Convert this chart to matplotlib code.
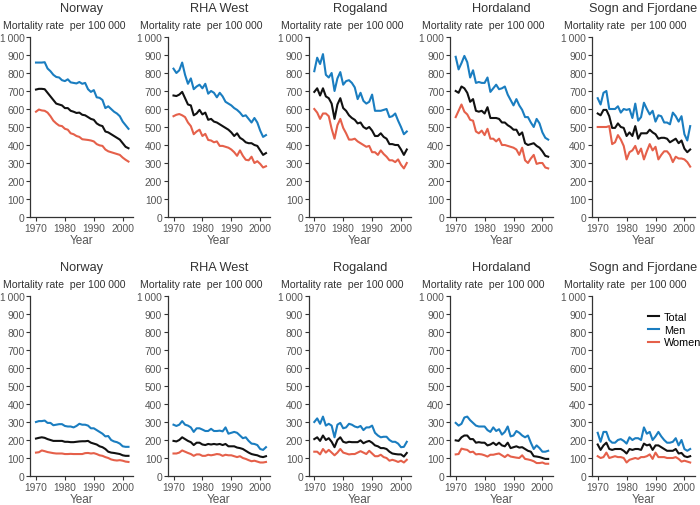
import matplotlib
matplotlib.use("Agg")
import matplotlib.pyplot as plt
import numpy as np

plt.rcParams['font.family'] = ['Liberation Sans', 'DejaVu Sans']

years = np.arange(1970, 2003)
regions = ['Norway', 'RHA West', 'Rogaland', 'Hordaland', 'Sogn and Fjordane']

# top row: all causes, per 100 000
top_total = {
    'Norway': [708, 712, 712, 710, 690, 670, 650, 630, 625, 620, 605, 605, 590, 585, 578, 580, 568, 565, 555, 545,
               540, 520, 510, 505, 475, 470, 460, 450, 440, 430, 410, 390, 382],
    'RHA West': [675, 672, 680, 695, 660, 625, 620, 565, 575, 595, 570, 580, 540, 545, 530, 525, 515, 505, 495, 485,
                 470, 450, 465, 440, 430, 415, 410, 410, 400, 395, 370, 345, 355],
    'Rogaland': [695, 715, 675, 715, 670, 660, 630, 545, 625, 660, 605, 590, 565, 550, 540, 520, 525, 500, 490, 500,
                 480, 450, 450, 465, 445, 435, 405, 405, 400, 400, 375, 345, 375],
    'Hordaland': [700, 690, 725, 715, 690, 640, 655, 590, 585, 590, 575, 610, 550, 550, 550, 545, 525, 525, 510, 500,
                  485, 485, 455, 470, 410, 400, 405, 410, 395, 385, 365, 340, 335],
    'Sogn and Fjordane': [575, 565, 595, 595, 560, 495, 495, 520, 500, 495, 450, 470, 450, 505, 435, 465, 465, 465, 485, 470,
                          460, 435, 440, 440, 435, 415, 425, 435, 410, 425, 380, 360, 375],
}
top_men = {
    'Norway': [858, 858, 858, 860, 825, 810, 790, 778, 775, 760, 755, 765, 748, 745, 742, 750, 740, 745, 710, 695,
               705, 665, 662, 650, 605, 615, 600, 585, 575, 560, 530, 510, 490],
    'RHA West': [824, 800, 815, 858, 790, 740, 770, 710, 725, 735, 715, 740, 685, 700, 690, 665, 690, 670, 640, 630,
                 620, 605, 595, 580, 560, 565, 545, 525, 550, 525, 480, 445, 455],
    'Rogaland': [810, 885, 850, 905, 790, 775, 800, 700, 770, 805, 735, 755, 760, 745, 720, 655, 690, 645, 630, 640,
                 680, 590, 590, 590, 595, 600, 555, 560, 575, 535, 500, 460, 475],
    'Hordaland': [890, 820, 855, 895, 860, 775, 815, 745, 750, 745, 745, 775, 695, 715, 735, 710, 715, 725, 680, 650,
                  620, 655, 620, 595, 555, 555, 525, 500, 545, 520, 470, 440, 430],
    'Sogn and Fjordane': [660, 625, 690, 700, 600, 600, 600, 615, 580, 600, 595, 600, 550, 630, 535, 555, 635, 600, 570, 590,
                          530, 565, 560, 525, 525, 515, 580, 560, 530, 560, 460, 425, 505],
}
top_women = {
    'Norway': [585, 597, 592, 590, 580, 560, 535, 520, 508, 505, 490, 485, 465, 460, 450, 445, 432, 430, 428, 425,
               420, 405, 398, 395, 375, 365, 360, 355, 350, 345, 330, 318, 308],
    'RHA West': [560, 568, 572, 565, 555, 525, 505, 460, 475, 485, 450, 462, 428, 425, 415, 420, 395, 395, 390, 385,
                 375, 360, 340, 370, 340, 318, 315, 335, 300, 310, 295, 275, 282],
    'Rogaland': [600, 580, 545, 575, 575, 560, 490, 435, 510, 545, 495, 465, 430, 430, 435, 420, 410, 400, 390, 395,
                 360, 360, 345, 370, 350, 335, 315, 315, 305, 320, 290, 270, 300],
    'Hordaland': [555, 590, 625, 585, 570, 540, 535, 475, 465, 480, 455, 490, 435, 435, 420, 435, 400, 400, 395, 390,
                  385, 375, 345, 385, 315, 300, 325, 345, 295, 300, 300, 275, 270],
    'Sogn and Fjordane': [500, 500, 500, 500, 505, 405, 415, 455, 430, 395, 320, 360, 370, 395, 350, 380, 320, 365, 405, 370,
                          390, 320, 345, 365, 365, 345, 305, 335, 325, 325, 320, 305, 280],
}

# bottom row
bot_total = {
    'Norway': [208, 212, 215, 212, 205, 200, 195, 195, 195, 195, 190, 190, 188, 188, 190, 192, 193, 193, 195, 185,
               180, 175, 165, 160, 150, 135, 130, 128, 125, 122, 115, 112, 112],
    'RHA West': [195, 192, 200, 215, 205, 195, 188, 172, 185, 185, 175, 172, 178, 175, 178, 175, 178, 172, 178, 165,
                 165, 165, 158, 155, 150, 140, 130, 122, 118, 115, 108, 105, 110],
    'Rogaland': [205, 215, 195, 225, 200, 210, 190, 160, 200, 215, 190, 185, 190, 188, 188, 188, 198, 182, 190, 195,
                 185, 170, 165, 155, 155, 150, 135, 125, 122, 120, 120, 108, 128],
    'Hordaland': [198, 195, 215, 225, 225, 205, 205, 185, 188, 185, 185, 170, 175, 185, 172, 185, 170, 165, 185, 155,
                  160, 165, 158, 160, 150, 140, 135, 110, 108, 105, 100, 95, 95],
    'Sogn and Fjordane': [175, 145, 170, 185, 150, 145, 150, 150, 150, 140, 125, 150, 145, 150, 150, 145, 180, 170, 175, 145,
                          170, 170, 160, 150, 140, 140, 140, 150, 125, 128, 110, 105, 110],
}
bot_men = {
    'Norway': [300, 305, 305, 308, 295, 295, 282, 285, 288, 288, 278, 275, 275, 270, 278, 290, 285, 285, 280, 265,
               265, 255, 245, 235, 220, 222, 200, 192, 188, 180, 165, 162, 162],
    'RHA West': [285, 278, 285, 305, 285, 280, 270, 245, 265, 265, 258, 250, 250, 262, 250, 250, 252, 248, 270, 235,
                 240, 245, 240, 225, 210, 215, 195, 180, 178, 172, 150, 145, 160],
    'Rogaland': [300, 320, 290, 330, 280, 290, 280, 215, 285, 295, 265, 270, 290, 285, 275, 270, 278, 255, 270, 270,
                 280, 240, 225, 215, 218, 218, 200, 190, 190, 180, 160, 162, 190],
    'Hordaland': [295, 280, 290, 325, 330, 310, 295, 280, 275, 275, 275, 255, 245, 270, 250, 260, 230, 245, 275, 220,
                  225, 250, 240, 225, 215, 225, 185, 150, 170, 155, 135, 135, 140],
    'Sogn and Fjordane': [240, 190, 245, 245, 200, 185, 185, 200, 205, 195, 180, 215, 200, 210, 210, 200, 270, 235, 245, 200,
                          220, 245, 220, 200, 185, 185, 190, 210, 170, 200, 150, 140, 150],
}
bot_women = {
    'Norway': [130, 132, 142, 138, 133, 130, 127, 125, 125, 125, 122, 122, 123, 122, 122, 122, 122, 127, 128, 125,
               127, 122, 115, 112, 105, 100, 92, 88, 86, 88, 85, 80, 78],
    'RHA West': [125, 125, 130, 142, 135, 128, 122, 112, 120, 120, 112, 112, 118, 115, 118, 122, 120, 112, 118, 115,
                 115, 110, 105, 110, 100, 95, 88, 82, 85, 80, 75, 75, 78],
    'Rogaland': [135, 135, 120, 150, 130, 145, 130, 115, 130, 150, 130, 125, 120, 122, 122, 130, 138, 130, 122, 140,
                 125, 110, 110, 118, 105, 100, 85, 90, 85, 78, 85, 75, 90],
    'Hordaland': [120, 122, 152, 148, 145, 132, 135, 120, 122, 120, 115, 108, 118, 118, 122, 125, 115, 105, 118, 108,
                  105, 102, 100, 115, 95, 92, 88, 82, 72, 72, 75, 68, 68],
    'Sogn and Fjordane': [110, 100, 105, 130, 100, 105, 110, 105, 105, 100, 75, 90, 95, 100, 95, 105, 105, 110, 120, 95,
                          130, 105, 105, 105, 100, 100, 100, 105, 95, 80, 85, 80, 75],
}

yticks = np.arange(0, 1001, 100)
ytick_labels = ['0', '100', '200', '300', '400', '500', '600', '700', '800', '900', '1\u2009000']
xticks = [1970, 1980, 1990, 2000]

c_total = '#111111'
c_men = '#1a7dc0'
c_women = '#e5604a'
grey = '#555555'

W, H = 700, 506
fig = plt.figure(figsize=(7, 5.06), dpi=100)

col_x1970 = [36, 173.5, 314.3, 455.7, 597.7]
px_per_year = 2.89
row_bottom = [218, 477]   # pixel y of 0 line
row_h = 180

for r, (tot, men, wom) in enumerate([(top_total, top_men, top_women), (bot_total, bot_men, bot_women)]):
    for c, reg in enumerate(regions):
        left = col_x1970[c] - 2 * px_per_year
        width = 35.5 * px_per_year
        ax = fig.add_axes([left / W, (H - row_bottom[r]) / H, width / W, row_h / H])
        ax.plot(years, tot[reg], color=c_total, lw=1.5, label='Total')
        ax.plot(years, men[reg], color=c_men, lw=1.5, label='Men')
        ax.plot(years, wom[reg], color=c_women, lw=1.5, label='Women')
        ax.set_xlim(1968, 2003.5)
        ax.set_ylim(0, 1000)
        ax.set_yticks(yticks)
        ax.set_yticklabels(ytick_labels)
        ax.set_xticks(xticks)
        for s in ['top', 'right']:
            ax.spines[s].set_visible(False)
        for s in ['left', 'bottom']:
            ax.spines[s].set_color('#333333')
            ax.spines[s].set_linewidth(0.9)
        ax.tick_params(axis='both', labelsize=7.4, colors='#333333', labelcolor=grey,
                       length=3, width=0.8, pad=1)
        ax.set_xlabel('Year', fontsize=8.5, color=grey, labelpad=1)
        # title and y label placed by hand above the axes
        ax.text(0.5, 1 + 26 / row_h, reg, transform=ax.transAxes,
                fontsize=9.2, color='#333333', ha='center', va='baseline')
        ax.text(-0.27, 1 + 9 / row_h, 'Mortality rate  per 100 000', transform=ax.transAxes,
                fontsize=7.6, color='#333333', ha='left', va='baseline')
        if r == 1 and c == 4:
            ax.legend(loc='upper left', bbox_to_anchor=(0.5, 0.935), frameon=False,
                      fontsize=7.8, handlelength=1.1, handletextpad=0.4,
                      labelspacing=0.25, borderaxespad=0)

fig.savefig('out.png', dpi=100)
